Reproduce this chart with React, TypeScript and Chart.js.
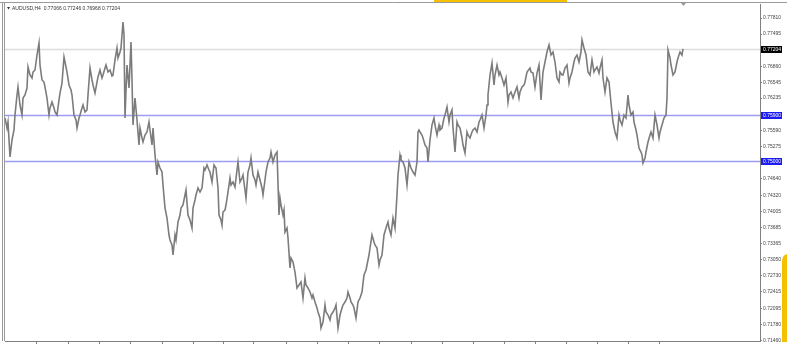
import React, { useEffect, useRef } from "react";
import { Chart, registerables } from "chart.js";
Chart.register(...registerables);

const symbolTitle = "AUDUSD,H4  0.77066 0.77246 0.76968 0.77204";

// H4 bar numbers (time axis)
const bars = [
  0,2,3,5,7,9,10,12,13,15, 17,18,20,22,23,25,27,28,30,32, 34,35,37,39,40,42,44,45,47,49,
  50,52,54,55,57,59,60,62,64,66, 67,69,71,72,74,75,77,78,80,82, 83,85,87,88,90,92,93,95,97,98,
  100,101,103,105,107,108,110,112,113,115, 116,118,119,120,121,122,124,126,127,128, 130,132,134,
  135,137,138,140,142,144,145,147,148,150, 152,153,155,157,158,160,162,164,165,167,
  168,170,171,173,175,176,178,180,181,183, 185,187,188,190,191,193,195,197,199,200,
  202,204,205,207,209,211,213,214,216,217, 218,220,221,223,225,226,228,230,232,233,
  235,237,238,240,241,243,245,246,248,250, 251,253,255,257,258,260,261,263,265,266, 268,270,272,274,
  275,276,278,279,280,282,283,285,286,288, 290,291,292,294,296,298,300,301,303,305,
  307,308,310,312,313,315,316,318,320,321, 323,325,326,328,330,331,333,335,337,338,
  340,342,343,345,346,348,349,351,353,355, 357,359,361,362,364,365,367,369,370,372,
  374,375,377,379,381,383,384,386,388,390, 392,393,395,396,398,400,402,404,406,408, 410,412,413,414,
  415,417,418,420,422,423,425,427,429,430, 432,434,435,437,439,440,442,444,445,447,
  448,450,452,453,455,457,458,460,462,463, 465,467,468,470,472,474,475,477,479,481,
  482,483,485,487,489,490,492,494,495,497, 499,501,503,504,506,508,510,512,514,515,
  517,519,520,522,525,526,528,530,532,534, 536,538,540,542,544,546,548,550,552,554,
  555,557,558,560,562,564,565,567,569,570, 572,574,576,577,579,581,583,585,587,589,
  590,592,594,595,597,598,600,602,604,606, 608,610,612,614,615,617,619,621,623,624,
  626,628,629,631,632,634,636,637,638,640, 641,643,645,646,648,650,652,654,655,657,
  659,661,662,663,665,666,668,670,672,673, 675,677,678,
];

// close prices
const closes = [
  .75841,.75644,.75762,.75073,.75408,.75605,.75900,.76294,.76452,.76097,
  .75900,.76235,.76294,.76432,.76846,.76688,.76629,.76747,.76787,.77082,
  .77318,.76885,.76590,.76550,.76452,.76235,.75900,.76038,.76156,.76038,
  .75959,.75900,.76196,.76333,.76530,.77043,.76944,.76747,.76491,.76393,
  .76294,.75900,.75802,.75644,.75841,.75900,.76038,.76097,.75959,.75999,
  .76294,.76826,.76590,.76491,.76333,.76550,.76649,.76787,.76629,.76688,
  .76826,.76885,.76747,.76787,.76668,.76688,.76984,.77220,.77023,.77141,
  .77220,.77732,.77476,.75841,.76393,.76885,.76432,.77338,.76590,.75703,
  .76235,.75802,.75309,
  .75644,.75447,.75368,.75506,.75565,.75762,.75605,.75309,.75644,.75112,
  .74718,.74974,.74856,.74777,.74521,.74068,.73871,.73536,.73438,.73339,
  .73142,.73536,.73438,.73792,.73930,.74068,.74127,.74324,.74423,.73930,
  .73832,.73674,.74068,.74226,.74324,.74462,.74383,.74462,.74856,.74817,
  .74915,.74817,.74777,.74580,.74915,.74856,.74462,.73930,.73832,.73733,
  .73989,.74029,.74127,.74383,.74659,.74521,.74580,.74482,.74817,.74974,
  .74580,.74659,.74718,.74423,.74265,.74777,.74915,.75053,.74718,.74620,
  .74521,.74777,.74620,.74462,.74324,.74620,.74777,.74974,.75053,.75171,
  .74974,.75112,.75171,.73930,
  .74265,.74127,.73930,.74029,.73595,.73674,.73477,.72886,.73083,.73004,
  .72807,.72650,.72492,.72551,.72610,.72295,.72689,.72551,.72492,.72413,
  .72295,.72354,.72216,.72098,.72019,.71901,.71704,.71822,.72157,.72019,
  .71960,.71862,.71960,.72019,.72098,.72157,.71704,.71960,.72098,.72157,
  .72216,.72295,.72413,.72295,.72216,.72157,.72098,.71901,.72216,.72295,
  .72413,.72748,.72847,.72945,.73142,.73280,.73536,.73398,.73339,.73280,
  .72945,.73044,.73142,.73536,.73674,.73792,.73674,.73536,.73871,.73674,
  .74324,.74718,.75112,.75014,.74974,.74856,.74521,.74974,.74856,.74777,
  .74718,.74974,.75565,.75605,
  .75565,.75506,.75447,.75309,.75250,.74974,.75408,.75703,.75841,.75703,
  .75506,.75703,.75605,.75644,.75841,.75900,.76058,.75762,.75900,.75999,
  .75644,.75171,.75762,.75703,.75644,.75447,.75309,.75151,.75565,.75506,
  .75447,.75565,.75605,.75644,.75565,.75762,.75802,.75900,.75644,.75900,
  .76097,.76294,.76688,.76924,.76491,.76688,.76885,.76688,.76747,.76629,
  .76491,.76629,.76156,.76294,.76353,.76235,.76353,.76452,.76235,.76353,
  .76452,.76491,.76550,.76747,.76826,.76747,.76727,.76452,.76727,.76885,
  .76196,.76747,.76944,.77141,.77279,.77082,.77141,.76944,.76629,.76550,
  .76747,.76688,.76688,.76826,.76885,.76530,.76629,.76747,.76944,.77023,
  .77082,.76944,.77141,.77378,.77220,.77082,.76747,.76688,.76984,.76747,
  .76787,.76846,.76727,.76826,.76984,.76629,.76353,.76629,.76550,.76136,
  .75762,.75565,.75447,.75900,.75802,.75703,.75900,.75841,.76294,.76097,
  .75900,.75959,.75762,.75605,.75506,.75250,.75171,.75112,.74954,.75053,
  .75171,.75368,.75506,.75565,.75447,.75900,.75703,.75447,.75565,.75703,
  .75841,.75900,.76235,.77181,.77023,.76885,.76688,.76747,.76944,.77023,
  .77141,.77082,.77204,
];

const levelLines = [0.759, 0.75];
const lastPrice = 0.77204;
const priceTicks = [
  0.7781, 0.77495, 0.7686, 0.76545, 0.76235, 0.7559, 0.75275, 0.7464, 0.7432,
  0.74005, 0.73685, 0.73365, 0.7305, 0.7273, 0.72415, 0.72095, 0.7178, 0.7146,
];
const timeTicks = [31,63,94,125,157,188,218,249,281,312,343,374,406,437,468,499,530,561,592,623,654];

const FONT = "Liberation Sans, Arial, sans-serif";

export default function App() {
  const ref = useRef<HTMLCanvasElement>(null);
  useEffect(() => {
    if (!ref.current) return;
    const data = bars.map((b, i) => ({ x: b, y: closes[i] }));
    const overlay = {
      id: "overlay",
      beforeDatasetsDraw(chart: any) {
        const { ctx, chartArea: a, scales } = chart;
        const y = scales.y;
        ctx.save();
        ctx.lineWidth = 1.5;
        ctx.strokeStyle = "#dcdcdc";
        const py = Math.round(y.getPixelForValue(lastPrice)) + 0.5;
        ctx.beginPath(); ctx.moveTo(a.left, py); ctx.lineTo(a.right, py); ctx.stroke();
        ctx.strokeStyle = "#9c9cf2";
        for (const v of levelLines) {
          const p = Math.round(y.getPixelForValue(v)) + 0.5;
          ctx.beginPath(); ctx.moveTo(a.left, p); ctx.lineTo(a.right, p); ctx.stroke();
        }
        ctx.restore();
      },
      afterDraw(chart: any) {
        const { ctx, chartArea: a, scales } = chart;
        const y = scales.y;
        ctx.save();
        // frame
        ctx.strokeStyle = "#9a9a9a";
        ctx.lineWidth = 1;
        ctx.beginPath(); ctx.moveTo(0, 2.5); ctx.lineTo(787, 2.5); ctx.stroke();
        ctx.beginPath(); ctx.moveTo(2.5, 2); ctx.lineTo(2.5, a.bottom); ctx.stroke();
        ctx.beginPath(); ctx.moveTo(4.5, 3); ctx.lineTo(4.5, a.bottom); ctx.stroke();
        // yellow markers
        ctx.fillStyle = "#f5c000";
        ctx.fillRect(434, 0, 133, 2);
        ctx.beginPath();
        ctx.moveTo(782, 262); ctx.quadraticCurveTo(782, 255, 787, 254);
        ctx.lineTo(787, 342); ctx.lineTo(782, 342); ctx.closePath(); ctx.fill();
        // shift marker
        ctx.fillStyle = "#9a9a9a";
        ctx.beginPath(); ctx.moveTo(681, 3); ctx.lineTo(686, 3); ctx.lineTo(683.5, 6); ctx.closePath(); ctx.fill();
        // title
        ctx.fillStyle = "#333";
        ctx.beginPath(); ctx.moveTo(7, 7); ctx.lineTo(10, 7); ctx.lineTo(8.5, 9.5); ctx.closePath(); ctx.fill();
        ctx.font = `5px ${FONT}`;
        ctx.textBaseline = "middle";
        ctx.fillText(symbolTitle, 12, 8.5);
        // price boxes
        const box = (v: number, bg: string) => {
          const p = Math.round(y.getPixelForValue(v));
          ctx.fillStyle = bg;
          ctx.fillRect(a.right + 1, p - 3, 21, 7);
          ctx.fillStyle = "#fff";
          ctx.font = `5px ${FONT}`;
          ctx.textBaseline = "middle";
          ctx.fillText(v.toFixed(5), a.right + 3, p + 0.5);
        };
        box(lastPrice, "#000");
        for (const v of levelLines) box(v, "#1c1cf0");
        ctx.restore();
      },
    };
    const chart = new Chart(ref.current, {
      type: "line",
      data: {
        datasets: [
          {
            data,
            borderColor: "#7c7c7c",
            borderWidth: 1.6,
            pointRadius: 0,
            tension: 0,
            fill: false,
          },
        ],
      },
      options: {
        animation: false,
        responsive: false,
        events: [],
        layout: { padding: { left: 5, top: 4, right: 0, bottom: 0 } },
        plugins: { legend: { display: false }, tooltip: { enabled: false } },
        scales: {
          x: {
            type: "linear",
            min: 0,
            max: 755,
            afterBuildTicks: (s: any) => { s.ticks = timeTicks.map((v) => ({ value: v })); },
            ticks: { display: false },
            grid: { drawOnChartArea: false, drawTicks: true, tickLength: 3, color: "#808080" },
            border: { display: true, color: "#808080" },
            afterFit: (s: any) => { s.height = 4; },
          },
          y: {
            position: "right",
            min: 0.71448,
            max: 0.78087,
            afterBuildTicks: (s: any) => { s.ticks = priceTicks.map((v) => ({ value: v })); },
            ticks: {
              autoSkip: false,
              font: { size: 5, family: FONT },
              color: "#444",
              padding: 1,
              callback: (v: any) => Number(v).toFixed(5),
            },
            grid: { drawOnChartArea: false, tickLength: 2, color: "#808080" },
            border: { display: true, color: "#808080" },
            afterFit: (s: any) => { s.width = 27; },
          },
        },
      },
      plugins: [overlay],
    } as any);
    return () => chart.destroy();
  }, []);
  return (
    <div style={{ position: "fixed", left: 0, top: 0, width: 787, height: 345, background: "#fff" }}>
      <canvas ref={ref} width={787} height={345} style={{ display: "block", width: 787, height: 345 }} />
    </div>
  );
}
